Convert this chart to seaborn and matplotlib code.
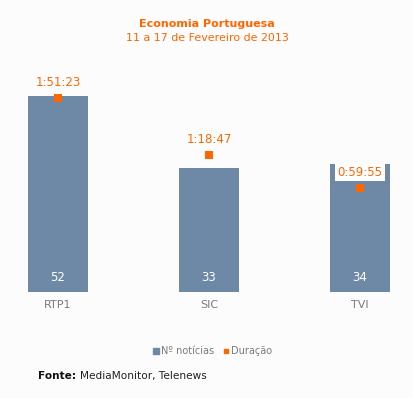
import matplotlib
matplotlib.use("Agg")
import matplotlib.pyplot as plt
import seaborn as sns
import pandas as pd
from matplotlib.lines import Line2D

# data
canais = ["RTP1", "SIC", "TVI"]
noticias = [52, 33, 34]
duracao_txt = ["1:51:23", "1:18:47", "0:59:55"]

def to_seconds(t):
    h, m, s = t.split(":")
    return int(h) * 3600 + int(m) * 60 + int(s)

duracao_s = [to_seconds(t) for t in duracao_txt]
df = pd.DataFrame({"canal": canais, "noticias": noticias, "duracao": duracao_s})

bg = "#fcfcfc"
bar_col = "#6d89a6"
orange = "#ff6600"
grey = "#7a7a7a"

sns.set_theme(style="white")
plt.rcParams["font.family"] = ["DejaVu Sans"]

fig = plt.figure(figsize=(4.14, 3.98), dpi=100, facecolor=bg)
ax = fig.add_axes([8 / 414, 106 / 398, 402 / 414, 212 / 398])
ax.set_facecolor(bg)

sns.barplot(data=df, x="canal", y="noticias", color=bar_col, width=0.4,
            saturation=1, linewidth=0, ax=ax)
ax.set_xlim(-50 / 151, 352 / 151)
ax.set_ylim(0, 212 / 3.77)

ax2 = ax.twinx()
sns.scatterplot(x=range(len(canais)), y=df["duracao"], marker="s", s=30,
                color=orange, edgecolor="none", ax=ax2, zorder=5)
ax2.set_ylim(0, 212 / 0.029)

# labels
for i, v in enumerate(noticias):
    ax.text(i, 2.2, str(v), ha="center", va="bottom", color="white", fontsize=8.5)
for i, (t, s) in enumerate(zip(duracao_txt, duracao_s)):
    box = None
    if i == 2:
        box = dict(boxstyle="square,pad=0.2", facecolor="white", edgecolor="none")
    ax2.annotate(t, (i, s), xytext=(0, 11), textcoords="offset points",
                 ha="center", va="center", color=orange, fontsize=8.5, bbox=box,
                 zorder=3)

for a in (ax, ax2):
    a.set_xlabel("")
    a.set_ylabel("")
    a.set_yticks([])
    for sp in a.spines.values():
        sp.set_visible(False)
ax.tick_params(axis="x", length=0, pad=6, labelsize=8, labelcolor=grey)

fig.text(0.5, 1 - 24 / 398, "Economia Portuguesa", ha="center", va="center",
         color=orange, fontsize=8, fontweight="bold")
fig.text(0.5, 1 - 38 / 398, "11 a 17 de Fevereiro de 2013", ha="center", va="center",
         color=orange, fontsize=7.9)

handles = [
    Line2D([], [], marker="s", linestyle="none", color=bar_col, markersize=5),
    Line2D([], [], marker="s", linestyle="none", color=orange, markersize=3.5),
]
fig.legend(handles, ["Nº notícias", "Duração"], loc="center",
           bbox_to_anchor=(212 / 414, 1 - 351 / 398), ncol=2, frameon=False,
           fontsize=7, labelcolor=grey, handletextpad=0.1, columnspacing=0.8,
           handlelength=0.8)

t1 = fig.text(38 / 414, 1 - 376 / 398, "Fonte:", ha="left", va="center",
              fontsize=7.6, fontweight="bold", color="#111111")
fig.canvas.draw()
bb = t1.get_window_extent()
fig.text((bb.x1 + 4) / 414, 1 - 376 / 398, "MediaMonitor, Telenews", ha="left",
         va="center", fontsize=7.6, color="#222222")

fig.savefig("out.png", dpi=100, facecolor=bg)
